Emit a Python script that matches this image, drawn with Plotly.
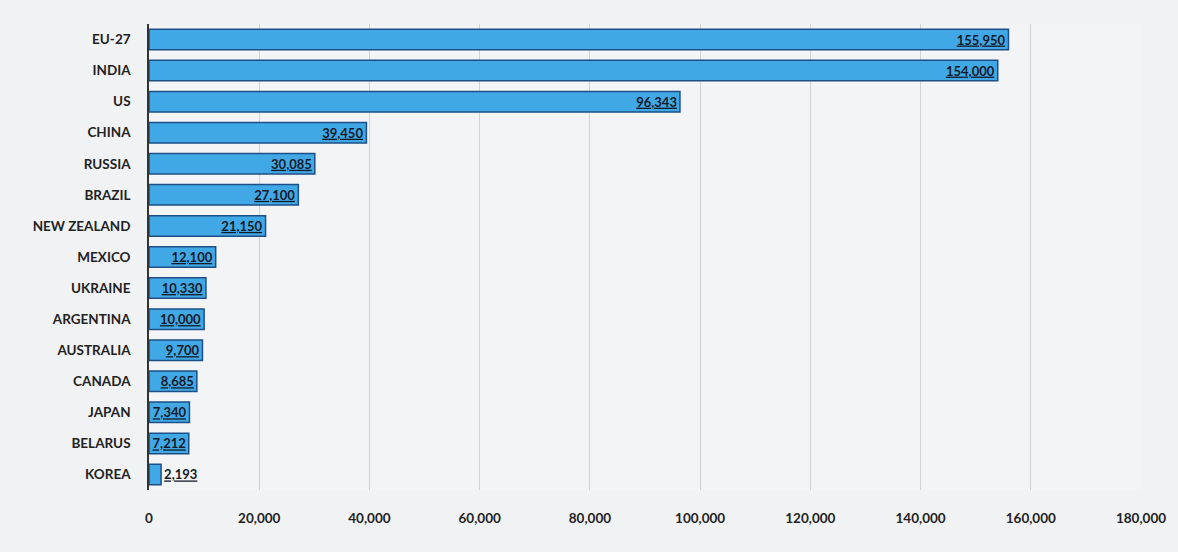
import plotly.graph_objects as go

countries = ["EU-27", "INDIA", "US", "CHINA", "RUSSIA", "BRAZIL", "NEW ZEALAND",
             "MEXICO", "UKRAINE", "ARGENTINA", "AUSTRALIA", "CANADA", "JAPAN",
             "BELARUS", "KOREA"]
values = [155950, 154000, 96343, 39450, 30085, 27100, 21150,
          12100, 10330, 10000, 9700, 8685, 7340, 7212, 2193]
tick_vals = [0, 20000, 40000, 60000, 80000, 100000, 120000, 140000, 160000, 180000]
tick_text = ["0", "20,000", "40,000", "60,000", "80,000", "100,000", "120,000",
             "140,000", "160,000", "180,000"]

labels = ["<u>{:,}</u>".format(v) for v in values]
positions = ["outside" if v < 5000 else "inside" for v in values]

fig = go.Figure()
fig.add_trace(go.Bar(
    x=values, y=countries, orientation="h",
    marker=dict(color="#41a8e6", line=dict(color="#1d4f86", width=1.5)),
    text=labels, textposition=positions, insidetextanchor="end",
    constraintext="none", textangle=0, cliponaxis=False,
    textfont=dict(family="Lato", size=13, color="#141a28", weight="bold"),
))

fig.update_layout(
    width=1178, height=552,
    margin=dict(l=149, r=29, t=24, b=62),
    paper_bgcolor="#f1f2f4", plot_bgcolor="#f3f4f6",
    bargap=0.34, showlegend=False,
    font=dict(family="Lato", size=13, color="#222222"),
)
fig.update_xaxes(range=[0, 180000], tickvals=tick_vals, ticktext=tick_text,
                 showgrid=True, gridcolor="#cfd2d6", gridwidth=1,
                 zeroline=False, ticks="", ticklen=0, ticklabelstandoff=18,
                 tickfont=dict(family="Lato", size=13.5, color="#222222", weight="bold"))
fig.update_yaxes(autorange="reversed", showline=True, linecolor="#333333",
                 linewidth=1.5, ticks="", ticklabelstandoff=14,
                 tickfont=dict(family="Lato", size=13.5, color="#222222", weight="bold"))

fig.write_html("out.html", config={"displayModeBar": False},
               post_script="document.body.style.margin='0';")
